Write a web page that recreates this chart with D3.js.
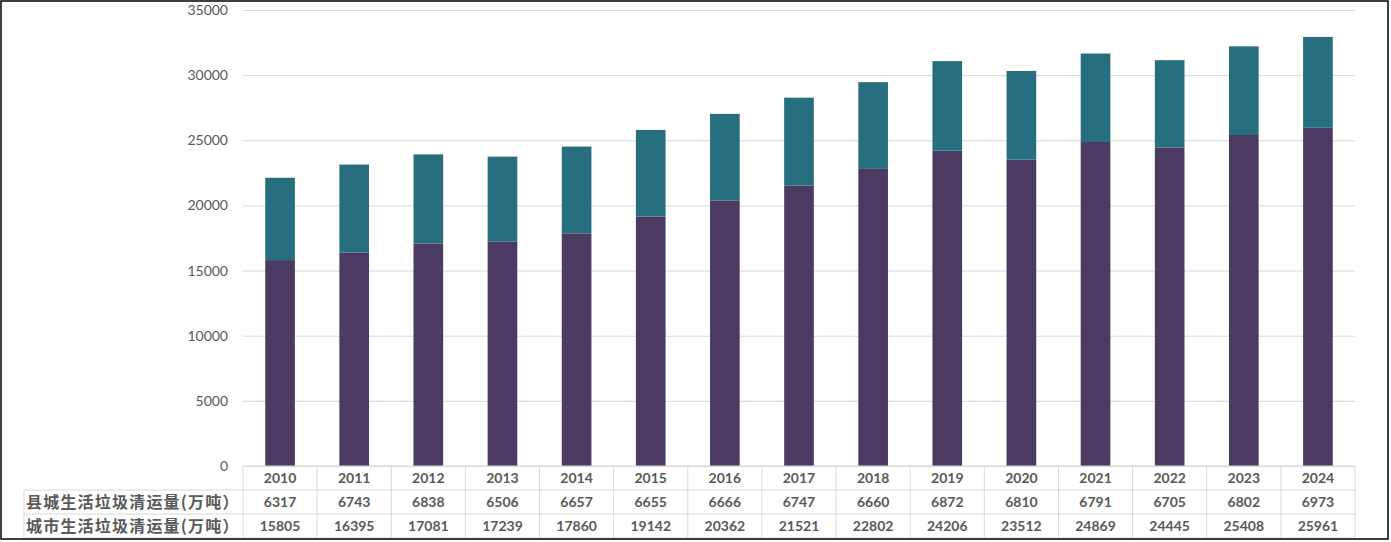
<!DOCTYPE html>
<html>
<head>
<meta charset="utf-8">
<script src="https://cdn.jsdelivr.net/npm/d3@7"></script>
<style>
  body { margin: 0; background: #fff; }
  text { font-family: Lato, "Noto Sans CJK SC", sans-serif; }
</style>
</head>
<body>
<script>
// chart data
var years = ["2010","2011","2012","2013","2014","2015","2016","2017","2018","2019","2020","2021","2022","2023","2024"];
var county = [6317,6743,6838,6506,6657,6655,6666,6747,6660,6872,6810,6791,6705,6802,6973];
var city = [15805,16395,17081,17239,17860,19142,20362,21521,22802,24206,23512,24869,24445,25408,25961];
var seriesNames = ["县城生活垃圾清运量(万吨）", "城市生活垃圾清运量(万吨）"];
var yTicks = [0,5000,10000,15000,20000,25000,30000,35000];

var W = 1391, H = 542;
var plotLeft = 243, plotRight = 1355, plotTop = 10, base = 466, rowH = 24;
var cityColor = "#4b3a62", countyColor = "#276e7f", gridColor = "#d9d9d9";

var svg = d3.select("body").append("svg")
  .attr("width", W).attr("height", H);

var x = d3.scaleBand().domain(years).range([plotLeft, plotRight]).paddingInner(0.6).paddingOuter(0.3);
var col = d3.scaleBand().domain(years).range([plotLeft, plotRight]);
var y = d3.scaleLinear().domain([0, 35000]).range([base, plotTop]);

// gridlines + y labels
var yAxis = svg.append("g")
  .attr("transform", "translate(" + plotLeft + ",0)")
  .call(d3.axisLeft(y).tickValues(yTicks).tickSize(-(plotRight - plotLeft)).tickPadding(15).tickFormat(d3.format("d")));
yAxis.select(".domain").remove();
yAxis.selectAll(".tick line").attr("stroke", gridColor);
yAxis.selectAll(".tick text").attr("fill", "#595959").style("font-size", "14px");

var rows = years.map(function(yr, i) { return {year: yr, city: city[i], county: county[i]}; });

// stacked bars
svg.append("g").selectAll("rect").data(rows).enter().append("rect")
  .attr("x", function(d) { return x(d.year); })
  .attr("width", x.bandwidth())
  .attr("y", function(d) { return y(d.city); })
  .attr("height", function(d) { return base - y(d.city); })
  .attr("fill", cityColor);
svg.append("g").selectAll("rect").data(rows).enter().append("rect")
  .attr("x", function(d) { return x(d.year); })
  .attr("width", x.bandwidth())
  .attr("y", function(d) { return y(d.city + d.county); })
  .attr("height", function(d) { return y(d.city) - y(d.city + d.county); })
  .attr("fill", countyColor);

// data table
var table = svg.append("g");
var tableBottom = base + rowH * 3;
var labelLeft = 24;
[0, 1, 2, 3].forEach(function(r) {
  table.append("line")
    .attr("x1", r === 0 ? plotLeft : labelLeft).attr("x2", plotRight)
    .attr("y1", base + r * rowH).attr("y2", base + r * rowH)
    .attr("stroke", gridColor);
});
years.forEach(function(yr) {
  table.append("line")
    .attr("x1", col(yr)).attr("x2", col(yr))
    .attr("y1", base).attr("y2", tableBottom)
    .attr("stroke", gridColor);
});
table.append("line").attr("x1", plotRight).attr("x2", plotRight).attr("y1", base).attr("y2", tableBottom).attr("stroke", gridColor);
table.append("line").attr("x1", labelLeft).attr("x2", labelLeft).attr("y1", base + rowH).attr("y2", tableBottom).attr("stroke", gridColor);

var rowVals = [years, county, city];
rowVals.forEach(function(vals, r) {
  table.append("g").selectAll("text").data(vals).enter().append("text")
    .attr("x", function(d, i) { return col(years[i]) + col.bandwidth() / 2; })
    .attr("y", base + r * rowH + rowH / 2)
    .attr("dy", "0.36em")
    .attr("text-anchor", "middle")
    .attr("fill", "#595959")
    .style("font-size", "14px")
    .style("font-weight", "bold")
    .text(function(d) { return d; });
});
seriesNames.forEach(function(name, r) {
  table.append("text")
    .attr("x", labelLeft + 2)
    .attr("y", base + (r + 1) * rowH + rowH / 2)
    .attr("dy", "0.36em")
    .attr("fill", "#595959")
    .style("font-family", "'Noto Sans CJK SC', sans-serif")
    .style("font-size", "16px")
    .style("letter-spacing", "1.2px")
    .style("font-weight", "bold")
    .text(name);
});

// outer frame
svg.append("rect")
  .attr("x", 1).attr("y", 1).attr("width", 1387).attr("height", 538)
  .attr("fill", "none").attr("stroke", "#000").attr("stroke-width", 1.5);
</script>
</body>
</html>
